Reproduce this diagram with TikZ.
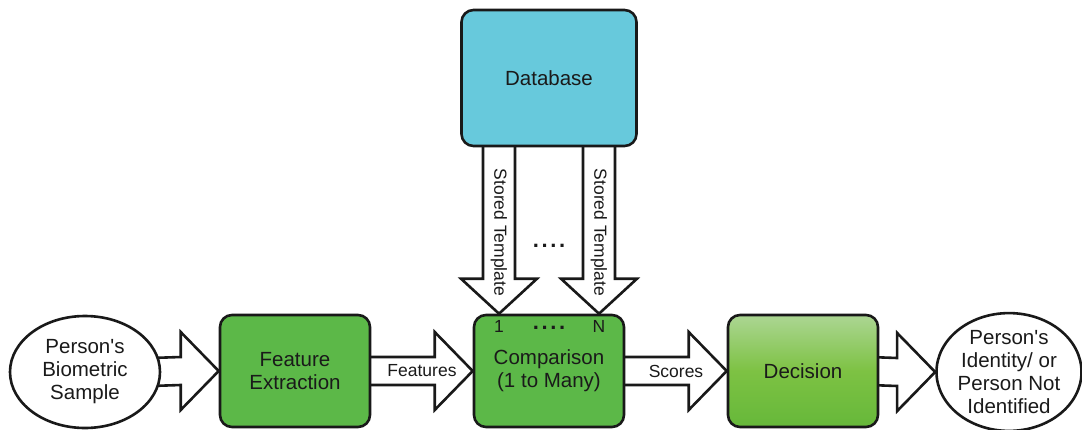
\documentclass[tikz,border=0pt]{standalone}
\usepackage{fontspec}
\setmainfont{Liberation Sans}
\usetikzlibrary{shapes.geometric,calc}
\pgfdeclarelayer{bg}
\pgfsetlayers{bg,main}
\definecolor{boxgreen}{HTML}{5CB848}
\definecolor{dbblue}{HTML}{67C9DC}
\definecolor{txt}{HTML}{1A1A1A}
\definecolor{declight}{HTML}{ACD693}
\definecolor{decmid}{HTML}{7DC243}
\definecolor{decdark}{HTML}{66B83A}
\newcommand\hblockarrow[2]{%
  \draw[blk] ([shift={(-10,-14)}]#1.east) -- ([shift={(-38,-14)}]#2.west) -- ([shift={(-38,-39)}]#2.west) -- (#2.west) -- ([shift={(-38,39)}]#2.west) -- ([shift={(-38,14)}]#2.west) -- ([shift={(-10,14)}]#1.east);}
\newcommand\vblockarrow[2]{%
  \draw[blk] ([shift={(-16,-10)}]#1) -- ([shift={(-16,-35)}]#2) -- ([shift={(-38,-35)}]#2) -- (#2) -- ([shift={(38,-35)}]#2) -- ([shift={(16,-35)}]#2) -- ([shift={(16,-10)}]#1);}
\newcommand\fourdots{.\hspace{2.6pt}.\hspace{2.6pt}.\hspace{2.6pt}.}
\begin{document}
\begin{tikzpicture}[x=1pt,y=-1pt,
  every node/.style={text=txt},
  outline/.style={draw=black!90, line width=2.6pt},
  boxbase/.style={outline, rounded corners=12pt, minimum width=150pt, minimum height=112pt, align=center, inner sep=0pt, font=\fontsize{20.5}{23}\selectfont},
  gbox/.style={boxbase, fill=boxgreen},
  dbox/.style={boxbase, top color=declight, bottom color=decdark, middle color=decmid},
  dbbox/.style={boxbase, fill=dbblue, minimum width=175pt, minimum height=136pt},
  ell/.style={outline, ellipse, fill=white, align=center, inner sep=0pt, font=\fontsize{20.5}{23}\selectfont},
  blk/.style={outline, fill=white, line join=miter},
  lbl/.style={font=\fontsize{17.5}{20}\selectfont, inner sep=0pt},
  dots/.style={font=\bfseries\fontsize{22}{24}\selectfont, inner sep=0pt, anchor=base}]
\useasboundingbox (0,0) rectangle (1082,429);
\node[ell, minimum width=150pt, minimum height=112pt] (src) at (85,372) {Person\textquotesingle s\\Biometric\\Sample};
\node[gbox] (fe) at (295,371) {Feature\\Extraction};
\node[gbox] (cmp) at (549,371) {Comparison\\(1 to Many)};
\node[dbox] (dec) at (803,371) {Decision};
\node[ell, minimum width=142pt, minimum height=114pt] (out) at (1009,372) {Person\textquotesingle s\\Identity/ or\\Person Not\\Identified};
\node[dbbox] (db) at (549,78) {Database};
\coordinate (s1) at ([xshift=-50pt]db.south);
\coordinate (sN) at ([xshift=50pt]db.south);
\coordinate (t1) at ([xshift=-50pt]cmp.north);
\coordinate (tN) at ([xshift=50pt]cmp.north);
\begin{pgfonlayer}{bg}
  \hblockarrow{src}{fe}
  \hblockarrow{fe}{cmp}
  \hblockarrow{cmp}{dec}
  \hblockarrow{dec}{out}
  \vblockarrow{s1}{t1}
  \vblockarrow{sN}{tN}
\end{pgfonlayer}
\node[lbl] (lf) at ($(fe.east)!0.5!(cmp.west)$) {Features};
\node[lbl] (ls) at ($(cmp.east)!0.5!(dec.west)$) {Scores};
\node[lbl, rotate=-90] (l1) at ($(s1)!0.5!(t1)+(0,2)$) {Stored Template};
\node[lbl, rotate=-90] (lN) at ($(sN)!0.5!(tN)+(0,2)$) {Stored Template};
\node[dots] (dm) at (549,247) {\fourdots};
\node[lbl] (n1) at ([yshift=-13pt]t1) {1};
\node[lbl] (nN) at ([yshift=-13pt]tN) {N};
\node[dots] (dn) at (549,329) {\fourdots};
\end{tikzpicture}
\end{document}
